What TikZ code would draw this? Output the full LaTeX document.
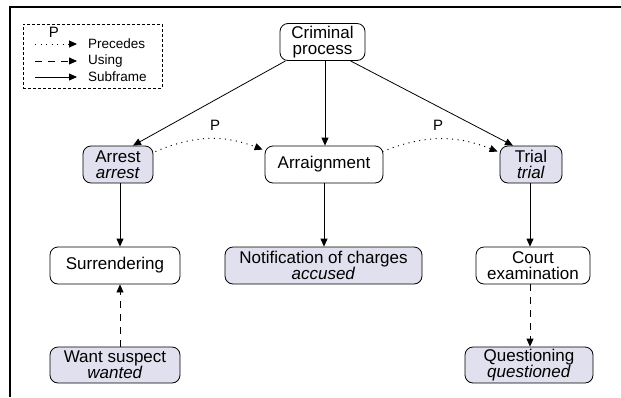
\documentclass[tikz,border=0pt]{standalone}
\usepackage{fontspec}
\setmainfont{Liberation Sans}
\usetikzlibrary{arrows.meta,calc}
\definecolor{framefill}{RGB}{224,224,238}
\begin{document}
\begin{tikzpicture}[x=1pt,y=-1pt,
  nodeW/.style={draw, rounded corners=8pt, line width=0.8pt, align=center, inner sep=0pt,
    minimum height=37pt, font=\fontsize{17}{16}\selectfont},
  nodeF/.style={nodeW, fill=framefill},
  arrtip/.style={-{Triangle[length=8pt,width=7pt]}},
  arrsub/.style={arrtip, line width=0.8pt},
  arrpre/.style={arrtip, line width=1pt, dash pattern=on 1pt off 4.5pt},
  arruse/.style={arrtip, line width=0.8pt, dash pattern=on 7pt off 6pt},
  plabel/.style={font=\fontsize{15}{15}\selectfont, inner sep=0pt},
  legtext/.style={font=\fontsize{13.5}{13.5}\selectfont, inner sep=0pt, anchor=west}
]
\useasboundingbox (0,0) rectangle (621,397);
% frame
\coordinate (fbl) at (10,397);
\coordinate (ftl) at (10,7);
\coordinate (ftr) at (621,7);
\draw[line width=1.2pt] (fbl) -- (ftl) -- (ftr);

% legend
\node[draw, line width=0.6pt, dash pattern=on 3pt off 2pt, minimum width=139pt, minimum height=64pt, inner sep=0pt] (legend) at (92.5,56) {};
\node[plabel] (legP) at (54,32.5) {P};
\coordinate (l1a) at (35,44); \coordinate (l1b) at (77,44);
\coordinate (l2a) at (35,61); \coordinate (l2b) at (77,61);
\coordinate (l3a) at (35,77); \coordinate (l3b) at (77,77);
\draw[arrpre] (l1a) -- (l1b);
\draw[arruse] (l2a) -- (l2b);
\draw[arrsub] (l3a) -- (l3b);
\node[legtext] (lt1) at (88,44) {Precedes};
\node[legtext] (lt2) at (88,61) {Using};
\node[legtext] (lt3) at (88,77) {Subframe};

% nodes
\node[nodeW, minimum width=85pt] (cp) at (322.5,42) {Criminal\\process};
\node[nodeF, minimum width=70pt] (arrest) at (118,164.5) {Arrest\\\textit{arrest}};
\node[nodeW, minimum width=118pt] (arraign) at (324,164.5) {Arraignment};
\node[nodeF, minimum width=62pt] (trial) at (531,164.5) {Trial\\\textit{trial}};
\node[nodeW, minimum width=130pt] (surr) at (115,265.5) {Surrendering};
\node[nodeF, minimum width=197pt] (notif) at (323.5,265.5) {Notification of charges\\\textit{accused}};
\node[nodeW, minimum width=114pt] (court) at (533,265.5) {Court\\examination};
\node[nodeF, minimum width=130pt, minimum height=36pt] (want) at (115,365) {Want suspect\\\textit{wanted}};
\node[nodeF, minimum width=128pt, minimum height=36pt] (quest) at (529,365) {Questioning\\\textit{questioned}};

% subframe arrows
\draw[arrsub] ([xshift=-37pt]cp.south) -- ([xshift=15pt]arrest.north);
\draw[arrsub] (cp.south -| arraign.north) ++(1,0) coordinate (cpa) (cpa) -- (cpa |- arraign.north);
\draw[arrsub] ([xshift=28pt]cp.south) -- ([xshift=-18pt]trial.north);
\draw[arrsub] ([xshift=2pt]arrest.south) -- ([xshift=2pt]arrest.south |- surr.north);
\draw[arrsub] (arraign.south) -- (arraign.south |- notif.north);
\draw[arrsub] ([xshift=-1pt]trial.south) -- ([xshift=-1pt]trial.south |- court.north);

% using arrows
\draw[arruse] ([xshift=5pt]want.north) -- ([xshift=5pt]want.north |- surr.south);
\draw[arruse] ([xshift=-3pt]court.south) -- ([xshift=-3pt]court.south |- quest.north);

% precedes arcs
\draw[arrpre] ($(arrest.north east)+(2,6)$) to[bend left=22] ($(arraign.north west)+(-2,4)$);
\draw[arrpre] ($(arraign.north east)+(-1,6)$) to[bend left=22] ($(trial.north west)+(-2,6)$);
\node[plabel] (p1) at (215,125) {P};
\node[plabel] (p2) at (438,125) {P};
\end{tikzpicture}
\end{document}
